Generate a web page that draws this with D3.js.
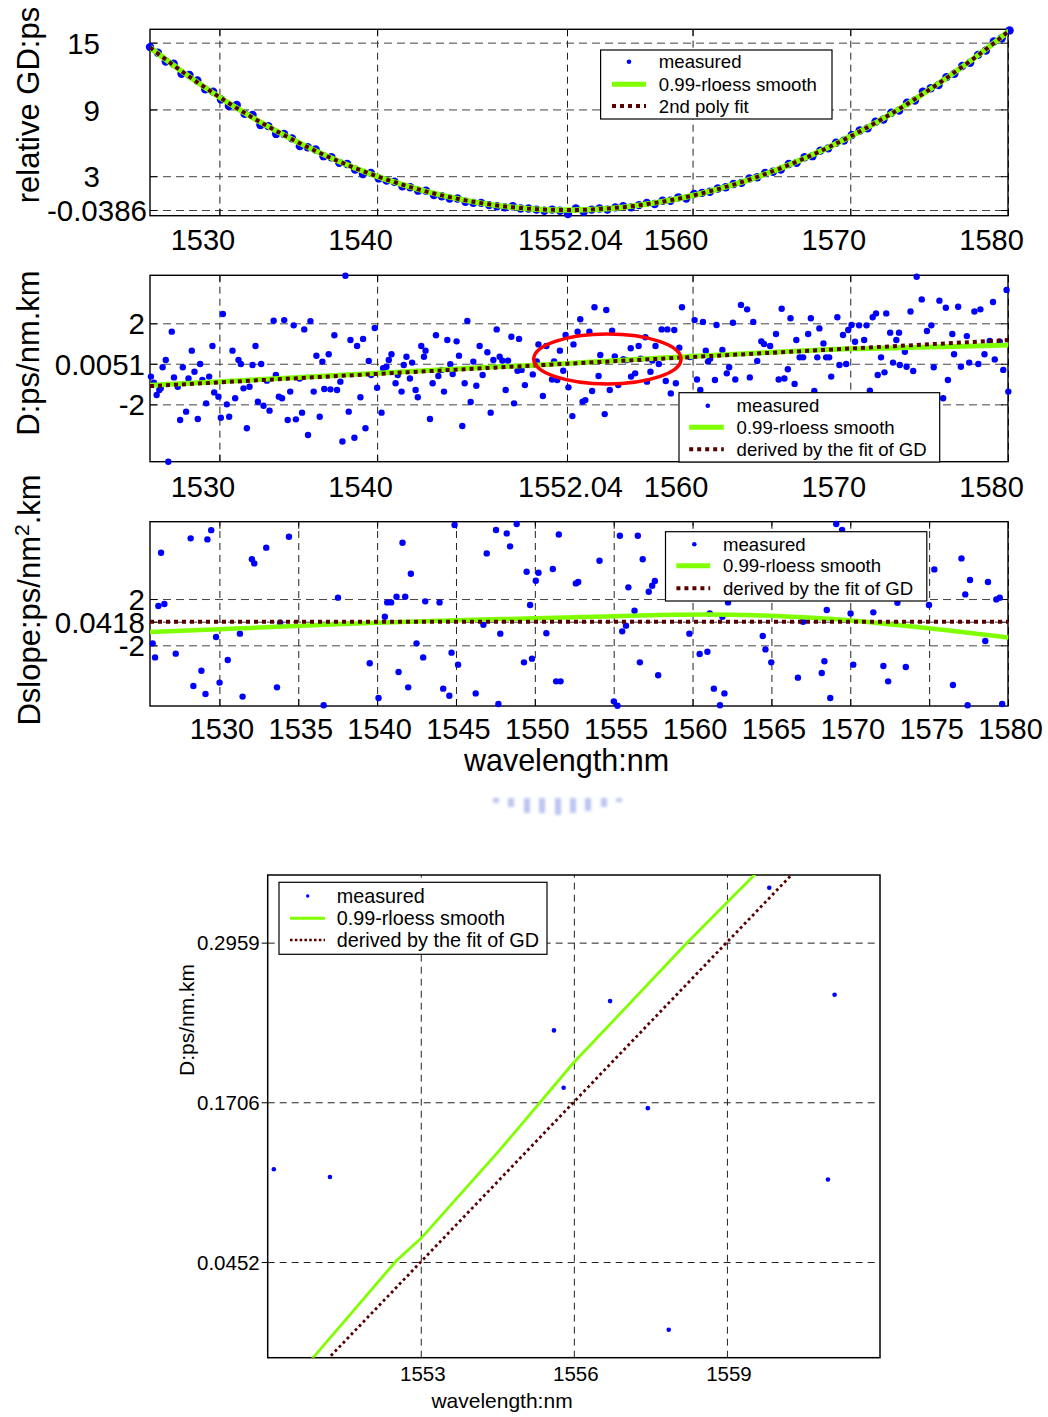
<!DOCTYPE html>
<html><head><meta charset="utf-8">
<script src="https://cdn.jsdelivr.net/npm/d3@7"></script>
<style>body{margin:0;background:#fff}svg{display:block}</style>
</head><body>
<svg id="c" width="1048" height="1417"></svg>
<script>
// ---------------- DATA ----------------
// Panel 1: relative group delay (ps), measured on a 0.5 nm wavelength grid
const gdStart = 1525.6, gdStep = 0.5;
const gdMeasured = [14.6,14.1,13.3,13.1,12.2,12.1,11.6,10.8,10.6,9.9,
 9.3,9.4,8.6,8.5,7.6,7.5,6.8,6.8,6.4,5.7,
 5.6,5.4,4.8,4.7,4.2,4.1,3.6,3.2,3.3,2.8,
 2.6,2.5,2.1,2.0,1.7,1.7,1.3,1.2,1.0,1.0,
 0.7,0.6,0.6,0.4,0.3,0.2,0.3,0.1,0.1,0.0,
 -0.1,0.0,-0.1,-0.4,0.1,-0.2,0.0,0.1,0.0,0.2,
 0.3,0.2,0.4,0.6,0.5,0.8,0.8,1.1,1.0,1.4,
 1.5,1.6,1.9,2.0,2.3,2.4,2.8,2.9,3.3,3.4,
 3.6,4.1,4.2,4.7,4.8,5.3,5.5,6.0,6.2,6.7,
 7.1,7.3,7.9,8.1,8.7,8.9,9.6,9.8,10.6,10.9,
 11.2,11.9,12.2,12.9,13.2,13.9,14.3,15.1,15.4,16.1];
const gdPolyFit = [14.57,14.02,13.49,12.96,12.44,11.94,11.44,10.96,10.48,10.02,
 9.57,9.12,8.69,8.27,7.86,7.46,7.07,6.69,6.32,5.96,
 5.61,5.27,4.94,4.62,4.32,4.02,3.73,3.46,3.19,2.94,
 2.70,2.46,2.24,2.02,1.82,1.63,1.45,1.28,1.12,0.97,
 0.83,0.70,0.58,0.47,0.37,0.28,0.21,0.14,0.08,0.04,
 0.00,-0.02,-0.04,-0.04,-0.03,-0.02,0.01,0.05,0.10,0.16,
 0.21,0.29,0.38,0.49,0.60,0.71,0.84,0.98,1.13,1.29,
 1.46,1.65,1.83,2.04,2.24,2.47,2.70,2.94,3.19,3.45,
 3.72,4.01,4.30,4.61,4.92,5.24,5.58,5.92,6.28,6.64,
 7.02,7.40,7.80,8.20,8.61,9.04,9.48,9.93,10.39,10.85,
 11.33,11.82,12.32,12.83,13.34,13.87,14.41,14.95,15.52,16.09];
const gdSmooth = [[1525.6,14.57],[1527.6,12.44],[1529.6,10.48],[1531.6,8.69],[1533.6,7.07],[1535.6,5.61],
 [1537.6,4.32],[1539.6,3.19],[1541.6,2.24],[1543.6,1.45],[1545.6,0.83],[1547.6,0.37],[1549.6,0.08],
 [1551.6,-0.04],[1553.6,0.01],[1555.6,0.21],[1557.6,0.60],[1559.6,1.13],[1561.6,1.83],[1563.6,2.70],
 [1565.6,3.72],[1567.6,4.92],[1569.6,6.28],[1571.6,7.80],[1573.6,9.48],[1575.6,11.33],[1577.6,13.34],
 [1579.6,15.52],[1580.1,16.09]];

// Panel 2 (and zoom): dispersion D (ps/nm.km)
const dMeasured = [
[1525.66,-0.63],[1525.85,-0.93],[1526.02,-1.54],[1526.19,-1.29],[1526.28,-1.21],[1526.40,-0.17],[1526.60,0.19],[1526.76,-4.83],[1526.98,1.59],[1527.12,-0.67],[1527.36,-1.13],[1527.51,-2.77],[1527.68,-0.17],[1527.89,-2.36],[1528.04,-0.72],[1528.25,0.65],[1528.42,-0.39],[1528.63,-2.72],[1528.78,-0.01],[1528.92,-0.80],[1529.16,-1.95],[1529.35,-0.63],[1529.56,0.88],[1529.67,-1.41],[1529.94,-1.62],[1530.09,-2.66],[1530.22,2.46],[1530.47,-2.00],[1530.62,-2.61],[1530.83,0.65],[1531.00,-1.70],[1531.21,0.19],[1531.36,-0.01],[1531.53,-1.21],[1531.74,-3.18],[1531.91,-1.13],[1532.10,-0.06],[1532.29,0.88],[1532.44,-1.87],[1532.65,-0.01],[1532.80,-2.07],[1533.01,-0.83],[1533.18,-2.31],[1533.44,2.13],[1533.58,-0.55],[1533.77,-1.62],[1533.97,-1.70],[1534.11,2.16],[1534.33,-2.77],[1534.49,-1.37],[1534.71,1.90],[1534.85,-2.74],[1535.09,-0.72],[1535.24,-2.41],[1535.38,1.70],[1535.62,-3.51],[1535.77,2.11],[1535.98,-1.37],[1536.15,0.40],[1536.36,-2.61],[1536.53,0.11],[1536.65,-1.24],[1536.93,0.47],[1537.04,-1.26],[1537.29,1.41],[1537.46,-1.29],[1537.67,-0.88],[1537.80,-3.83],[1537.99,4.35],[1538.20,-2.36],[1538.31,1.18],[1538.56,-3.65],[1538.73,0.88],[1538.94,-1.65],[1539.11,1.23],[1539.26,-3.18],[1539.47,0.14],[1539.62,-0.55],[1539.85,1.77],[1540.00,-1.18],[1540.28,-2.41],[1540.38,-0.22],[1540.59,-0.14],[1540.74,0.19],[1540.91,0.47],[1541.17,-0.96],[1541.31,-0.55],[1541.55,-1.37],[1541.69,-0.06],[1541.86,0.35],[1542.08,-0.72],[1542.22,0.06],[1542.44,-1.29],[1542.58,-1.65],[1542.80,0.88],[1542.97,0.35],[1543.07,0.65],[1543.35,-2.72],[1543.52,-0.96],[1543.73,1.41],[1543.88,-0.60],[1544.09,-0.30],[1544.24,-1.37],[1544.45,1.18],[1544.64,-0.02],[1544.79,-0.50],[1545.04,1.11],[1545.19,0.40],[1545.40,-3.07],[1545.55,-0.96],[1545.72,2.12],[1545.93,-1.88],[1546.10,0.11],[1546.29,-1.08],[1546.50,0.88],[1546.69,-0.55],[1546.99,0.57],[1547.20,-2.41],[1547.37,0.19],[1547.58,1.70],[1547.77,0.35],[1547.94,0.16],[1548.15,-1.29],[1548.30,0.16],[1548.51,1.34],[1548.68,-1.95],[1548.90,-0.34],[1549.00,1.23],
[1549.16,-0.30],[1549.37,-1.05],[1549.87,-0.52],[1550.12,0.118],[1550.23,0.96],[1550.51,-1.59],[1550.73,0.88],[1551.09,-0.77],[1551.22,0.112],[1551.42,-0.80],[1551.59,0.65],[1551.80,-0.34],[1551.95,1.42],[1552.13,-1.16],[1552.38,-2.58],[1552.45,0.96],[1552.71,1.59],[1552.88,2.20],[1553.03,-1.87],[1553.20,-1.79],[1553.46,1.59],[1553.63,-1.34],[1553.78,2.79],[1554.04,-0.60],[1554.15,0.44],[1554.43,-2.48],[1554.53,2.66],[1554.75,-1.29],[1554.90,1.64],[1555.07,0.37],[1555.29,-1.05],[1555.61,0.227],[1555.80,0.182],[1556.08,0.77],[1556.10,-0.63],[1556.36,-0.47],[1556.58,0.88],[1556.71,0.250],[1557.01,1.31],[1557.11,-0.88],[1557.33,-0.39],[1557.45,0.166],[1557.65,0.88],[1557.86,-0.008],[1558.04,1.70],[1558.30,-0.85],[1558.40,1.70],[1558.62,-1.46],[1558.84,1.67],[1558.94,-0.96],[1559.16,0.80],[1559.33,2.79],[1559.83,0.339],[1560.13,2.16],[1560.28,-0.77],[1560.49,-1.29],[1560.66,2.07],[1560.84,0.65],[1560.98,0.110],[1561.11,0.255],[1561.42,-0.80],[1561.52,1.92],[1561.89,0.68],[1562.17,-0.47],[1562.32,-0.17],[1562.56,2.03],[1562.71,-0.77],[1563.07,2.91],[1563.46,2.69],[1563.63,-0.67],[1563.85,2.07],[1564.10,0.14],[1564.36,1.11],[1564.53,0.98],[1564.92,0.88],[1565.29,1.47],[1565.46,-0.77],[1565.65,2.72],[1565.82,-0.72],[1566.04,-0.27],[1566.21,2.25],[1566.47,-0.99],[1566.58,1.18],[1566.79,0.32],[1567.01,0.32],[1567.33,1.47],[1567.50,2.25],[1567.72,-1.34],[1567.91,0.32],[1568.04,1.75],[1568.30,1.01],[1568.47,0.32],[1568.66,0.32],[1568.79,-0.63],[1569.18,2.30],[1569.31,-0.06],[1569.54,1.42],[1569.74,-0.01],[1569.87,1.67],[1570.08,1.92],[1570.30,1.09],[1570.56,1.90],[1570.88,1.18],[1571.03,1.90],[1571.24,-1.33],[1571.42,2.30],[1571.63,2.49],[1571.74,-0.55],[1571.95,0.32],[1572.17,-0.42],[1572.28,2.49],[1572.53,1.54],[1572.71,0.06],[1572.92,1.18],[1573.09,1.54],[1573.14,-0.06],[1573.46,0.60],[1573.57,-0.14],[1573.82,2.58],[1573.99,-0.35],[1574.21,4.30],[1574.53,3.18],[1574.86,1.62],[1575.14,1.90],[1575.29,-0.17],[1575.65,3.12],[1575.89,-1.70],[1576.06,2.77],[1576.19,-0.80],[1576.47,1.47],[1576.58,0.47],[1576.84,2.82],[1577.01,-0.14],[1577.39,1.37],[1577.54,0.06],[1577.87,2.58],[1578.12,-0.01],[1578.25,2.69],[1578.51,0.47],[1578.84,1.13],[1579.05,3.05],[1579.16,0.22],[1579.48,1.09],[1579.70,-0.30],[1579.91,3.65],[1580.02,-1.37]];
const dSmooth = [[1525.6,-1.06],[1530,-0.88],[1535,-0.67],[1540,-0.46],[1545,-0.26],[1548,-0.13],[1550,-0.07],
 [1550.887,-0.030],[1552.515,0.046],[1553.01,0.064],[1554.546,0.133],[1555.98,0.201],[1558.2,0.295],
 [1559.536,0.349],[1562,0.45],[1565,0.57],[1570,0.74],[1575,0.83],[1580.1,0.93]];
const dFromFit = [[1525.6,-1.100],[1535,-0.707],[1545,-0.289],[1552.04,0.0051],[1555,0.129],[1560,0.338],
 [1565,0.547],[1570,0.756],[1575,0.965],[1580.1,1.178]];

// Panel 3: dispersion slope (ps/nm^2.km)
const dsMeasured = [
[1525.77,-1.83],[1525.92,-3.04],[1526.13,1.40],[1526.30,6.00],[1526.51,1.57],[1527.23,-2.72],[1528.18,7.24],[1528.35,-5.51],[1528.86,-4.19],[1529.12,-6.20],[1529.24,7.15],[1529.48,7.95],[1529.79,-1.28],[1530.01,-5.22],[1530.53,-3.27],[1531.30,-0.99],[1531.47,-6.43],[1532.06,5.43],[1532.21,5.08],[1532.97,6.44],[1533.65,-5.63],[1533.85,-0.05],[1534.41,7.38],[1536.61,-7.18],[1537.52,2.12],[1539.53,-3.55],[1540.09,-6.55],[1540.49,0.47],[1540.64,1.71],[1540.89,1.71],[1541.23,2.20],[1541.36,-4.30],[1541.61,6.86],[1541.78,2.20],[1541.97,-5.63],[1542.14,4.19],[1542.50,-1.83],[1542.92,-3.04],[1543.05,1.80],[1543.96,1.71],[1544.19,-5.74],[1544.58,-6.35],[1544.72,-2.63],[1544.91,8.39],[1545.13,-3.67],[1546.25,-6.15],[1546.74,-0.22],[1546.95,5.94],[1547.54,7.96],[1547.69,-7.07],[1547.81,-0.99],[1548.22,7.67],[1548.43,6.55],[1548.85,8.48],
[1549.31,-3.47],[1549.48,4.36],[1549.70,1.48],[1549.82,-3.15],[1550.06,3.58],[1550.23,4.27],[1550.73,-0.96],[1551.14,4.59],[1551.35,-5.11],[1551.52,7.58],[1551.63,-5.11],[1552.60,3.35],[1552.75,3.47],[1554.10,5.31],[1555.01,-6.84],[1555.24,-7.22],[1555.39,7.47],[1555.54,-0.79],[1555.78,-0.30],[1555.93,3.01],[1556.32,0.99],[1556.53,7.47],[1556.66,-3.47],[1556.84,5.43],[1557.22,2.63],[1557.44,3.15],[1557.61,3.56],[1557.82,-4.59],[1559.80,-0.99],[1560.45,-2.75],[1560.94,-2.55],[1561.09,0.76],[1561.35,-5.74],[1561.74,-7.18],[1561.89,0.47],[1562.02,-6.15],[1562.25,1.71],[1564.45,-1.19],[1564.62,-2.35],[1564.99,-3.47],[1566.68,-4.79],[1567.01,0.04],[1568.19,-4.39],[1568.36,-3.38],[1568.51,1.05],[1568.73,-6.55],[1569.11,8.48],[1569.48,7.96],[1570.02,0.76],[1570.19,-3.67],[1571.46,0.85],[1572.10,-3.79],[1572.40,-5.11],[1572.99,1.68],[1573.52,-3.87],[1574.99,1.48],[1575.33,4.56],[1576.51,-5.43],[1577.05,5.51],[1577.29,2.40],[1577.44,-7.18],[1577.59,3.64],[1578.56,-1.63],[1578.73,3.47],[1579.26,1.97],[1579.48,2.12],[1579.63,-7.07]];
const dsSmooth = [[1525.6,-0.85],[1528,-0.72],[1531,-0.55],[1534,-0.38],[1537,-0.20],[1540,-0.05],[1543,0.08],
 [1546,0.20],[1549,0.30],[1552,0.40],[1555,0.52],[1558,0.62],[1561,0.66],[1564,0.60],[1567,0.42],
 [1570,0.15],[1573,-0.25],[1576,-0.68],[1578,-1.00],[1580.1,-1.34]];
const dsFromFit = [[1525.6,0.0418],[1580.1,0.0418]];

// Tick values
const xTicksMain = [1530,1540,1552.04,1560,1570,1580];
const xTicksSlope = [1530,1535,1540,1545,1550,1555,1560,1565,1570,1575,1580];
const yTicksGD = [-0.0386,3,9,15];
const yTicksD = [-2,0.0051,2];
const yTicksDS = [-2,0.0418,2];
const xTicksZoom = [1553,1556,1559];
const yTicksZoom = [0.0452,0.1706,0.2959];

// Legend labels
const legendGD = ["measured","0.99-rloess smooth","2nd poly fit"];
const legendD = ["measured","0.99-rloess smooth","derived by the fit of GD"];

// ---------------- DRAWING ----------------
const FONT = '"Liberation Sans", Arial, Helvetica, sans-serif';
const BLUE = "#0000ff", GREEN = "#80ff00", BROWN = "#560000";
const svg = d3.select("#c");
const defs = svg.append("defs");
defs.append("filter").attr("id","blur").append("feGaussianBlur").attr("stdDeviation",1.8);

const L = 150, R = 1008;
const wlDomain = [1525.6, 1580];

function panel(i, cfg) {
  const g = svg.append("g");
  const x = d3.scaleLinear(wlDomain, [L, R]);
  const y = d3.scaleLinear(cfg.yDom, [cfg.bottom, cfg.top]);
  const h = cfg.bottom - cfg.top;
  defs.append("clipPath").attr("id","cp"+i).append("rect")
    .attr("x",L).attr("y",cfg.top).attr("width",R-L).attr("height",h);

  const gx = g.append("g").attr("transform",`translate(0,${cfg.bottom})`)
    .call(d3.axisBottom(x).tickValues(cfg.xTicks).tickSize(-h).tickFormat(d=>String(d)));
  gx.select(".domain").remove();
  gx.selectAll(".tick line").attr("stroke","#222").attr("stroke-dasharray","7,5");
  gx.selectAll(".tick text").attr("font-family",FONT).attr("font-size",29).attr("fill","#000")
    .attr("dy",0).attr("y",cfg.xLabY).attr("x",cfg.xLabDx);

  const gy = g.append("g").attr("transform",`translate(${L},0)`)
    .call(d3.axisLeft(y).tickValues(cfg.yTicks).tickSize(-(R-L)).tickFormat(d=>String(d)));
  gy.select(".domain").remove();
  gy.selectAll(".tick line").attr("stroke","#444").attr("stroke-dasharray","8,5");
  gy.selectAll(".tick text").attr("font-family",FONT).attr("font-size",29.5).attr("fill","#000")
    .attr("dy","0.36em").attr("x",cfg.yLabX);

  g.append("rect").attr("x",L).attr("y",cfg.top).attr("width",R-L).attr("height",h)
    .attr("fill","none").attr("stroke","#000").attr("stroke-width",1.4);
  const tk = (axis, tr) => { const a = g.append("g").attr("transform",tr).call(axis); a.select(".domain").remove();
    a.selectAll("text").remove(); a.selectAll("line").attr("stroke","#000"); };
  tk(d3.axisLeft(y).tickValues(cfg.yTicks).tickSize(-7), `translate(${L},0)`);
  tk(d3.axisRight(y).tickValues(cfg.yTicks).tickSize(-7), `translate(${R},0)`);
  tk(d3.axisBottom(x).tickValues(cfg.xTicks).tickSize(-7), `translate(0,${cfg.bottom})`);
  tk(d3.axisTop(x).tickValues(cfg.xTicks).tickSize(-7), `translate(0,${cfg.top})`);

  const t = g.append("text").attr("transform",`translate(${cfg.titleX},${cfg.titleY}) rotate(-90)`)
    .attr("text-anchor","middle").attr("font-family",FONT).attr("font-size",31);
  cfg.title(t);

  g.append("g").selectAll("circle").data(cfg.meas).join("circle")
    .attr("cx",d=>x(d[0])).attr("cy",d=>y(d[1])).attr("r",cfg.dotR).attr("fill",BLUE);
  const cl = g.append("g").attr("clip-path",`url(#cp${i})`);
  cl.append("path").attr("d",d3.line().x(d=>x(d[0])).y(d=>y(d[1])).curve(d3.curveMonotoneX)(cfg.smooth)).attr("fill","none")
    .attr("stroke",GREEN).attr("stroke-width",cfg.greenW);
  cl.append("path").attr("d",d3.line().x(d=>x(d[0])).y(d=>y(d[1])).curve(d3.curveMonotoneX)(cfg.fit)).attr("fill","none")
    .attr("stroke",BROWN).attr("stroke-width",4).attr("stroke-dasharray","4,4");

  if (cfg.extra) cfg.extra(g, x, y);

  const lg = cfg.legend;
  const lgG = g.append("g");
  lgG.append("rect").attr("x",lg.x0).attr("y",lg.y0).attr("width",lg.x1-lg.x0).attr("height",lg.y1-lg.y0)
    .attr("fill","#fff").attr("stroke","#000").attr("stroke-width",1.2);
  lgG.append("circle").attr("cx",lg.dotX).attr("cy",lg.rows[0]).attr("r",2.3).attr("fill",BLUE);
  lgG.append("line").attr("x1",lg.l0).attr("x2",lg.l1).attr("y1",lg.rows[1]).attr("y2",lg.rows[1])
    .attr("stroke",GREEN).attr("stroke-width",5);
  lgG.append("line").attr("x1",lg.l0).attr("x2",lg.l1).attr("y1",lg.rows[2]).attr("y2",lg.rows[2])
    .attr("stroke",BROWN).attr("stroke-width",4).attr("stroke-dasharray","4,4");
  lgG.selectAll("text").data(lg.labels).join("text").attr("x",lg.tx).attr("y",(d,k)=>lg.rows[k])
    .attr("dy","0.35em").attr("font-family",FONT).attr("font-size",18.6).text(d=>d);
  return {x,y};
}

const gdPoints = gdMeasured.map((v,k)=>[gdStart+k*gdStep, v]);
const gdFitPts = gdPolyFit.map((v,k)=>[gdStart+k*gdStep, v]);

panel(1, {top:29.3, bottom:215.7, yDom:[-0.55,16.2], xTicks:xTicksMain, yTicks:yTicksGD,
  xLabY:34.5, xLabDx:d=>Number.isInteger(d)?-17:3, yLabX:d=>Number.isInteger(d)?-50:-3,
  titleX:39, titleY:105, title:t=>t.text("relative GD:ps"),
  meas:gdPoints, smooth:gdSmooth, fit:gdFitPts, dotR:4.2, greenW:5.5,
  legend:{x0:600.6,x1:832,y0:50,y1:119,dotX:629,l0:612,l1:646,tx:658.8,rows:[61.7,84.3,106],labels:legendGD}});

panel(2, {top:275.3, bottom:461.7, yDom:[-4.83,4.37], xTicks:xTicksMain, yTicks:yTicksD,
  xLabY:35, xLabDx:d=>Number.isInteger(d)?-17:3, yLabX:-5,
  titleX:39, titleY:353, title:t=>t.text("D:ps/nm.km"),
  meas:dMeasured, smooth:dSmooth, fit:dFromFit, dotR:3.2, greenW:5,
  extra:(g,x,y)=>{
    g.append("ellipse").attr("cx",x(1554.6)).attr("cy",y(0.237))
      .attr("rx",x(1554.6+4.67)-x(1554.6)).attr("ry",y(0.237)-y(0.237+1.23))
      .attr("fill","none").attr("stroke","#ff0000").attr("stroke-width",3.5);
  },
  legend:{x0:679,x1:939.7,y0:392.7,y1:462,dotX:707.8,l0:689.2,l1:723.8,tx:736.6,rows:[405.7,427.3,449.3],labels:legendD}});

panel(3, {top:521.7, bottom:706, yDom:[-7.24,8.68], xTicks:xTicksSlope, yTicks:yTicksDS,
  xLabY:33, xLabDx:2, yLabX:-5,
  titleX:40, titleY:600,
  title:t=>{ t.append("tspan").text("Dslope:ps/nm");
    t.append("tspan").attr("baseline-shift","super").attr("font-size",21).text("2");
    t.append("tspan").text(".km"); },
  meas:dsMeasured, smooth:dsSmooth, fit:dsFromFit, dotR:3.2, greenW:4.5,
  legend:{x0:665.5,x1:926.8,y0:531.7,y1:601,dotX:694.3,l0:676.4,l1:710.2,tx:723,rows:[544.3,565.7,588.3],labels:legendD}});

svg.append("text").attr("x",566.5).attr("y",771).attr("text-anchor","middle")
  .attr("font-family",FONT).attr("font-size",30.5).text("wavelength:nm");

// faint watermark fragment
const wm = svg.append("g").attr("filter","url(#blur)").attr("opacity",0.6);
[[496,5],[511,9],[527,15],[542,15],[558,17],[573,15],[588,13],[604,9],[619,4]].forEach(([cx,hh])=>{
  wm.append("rect").attr("x",cx-3).attr("y",798).attr("width",6).attr("height",hh).attr("fill","#8d9de6");
});

// ---------------- Zoomed D chart ----------------
{
  const x0=267.7, x1=880, t0=875, b0=1357.7;
  const x = d3.scaleLinear([1550,1562],[x0,x1]);
  const y = d3.scaleLinear([-0.0299,0.349],[b0,t0]);
  const g = svg.append("g");
  defs.append("clipPath").attr("id","cpz").append("rect").attr("x",x0).attr("y",t0).attr("width",x1-x0).attr("height",b0-t0);
  const gx = g.append("g").attr("transform",`translate(0,${b0})`)
    .call(d3.axisBottom(x).tickValues(xTicksZoom).tickSize(-(b0-t0)).tickFormat(d=>String(d)));
  gx.select(".domain").remove();
  gx.selectAll(".tick line").attr("stroke","#222").attr("stroke-dasharray","7,5");
  gx.selectAll(".tick text").attr("font-family",FONT).attr("font-size",20.5).attr("fill","#000")
    .attr("dy",0).attr("y",23.5).attr("x",1.5);
  const gy = g.append("g").attr("transform",`translate(${x0},0)`)
    .call(d3.axisLeft(y).tickValues(yTicksZoom).tickSize(-(x1-x0)).tickFormat(d=>String(d)));
  gy.select(".domain").remove();
  gy.selectAll(".tick line").attr("stroke","#222").attr("stroke-dasharray","7,5");
  gy.selectAll(".tick text").attr("font-family",FONT).attr("font-size",20.5).attr("fill","#000")
    .attr("dy","0.35em").attr("x",-8);
  const ot = g.append("g").attr("transform",`translate(${x0},0)`)
    .call(d3.axisLeft(y).tickValues(yTicksZoom).tickSize(6).tickFormat(""));
  ot.select(".domain").remove(); ot.selectAll("line").attr("stroke","#000");
  g.append("rect").attr("x",x0).attr("y",t0).attr("width",x1-x0).attr("height",b0-t0)
    .attr("fill","none").attr("stroke","#000").attr("stroke-width",1.5);

  const inView = dMeasured.filter(d=>d[0]>=1550&&d[0]<=1562&&d[1]>=-0.0299&&d[1]<=0.349);
  g.append("g").selectAll("circle").data(inView).join("circle")
    .attr("cx",d=>x(d[0])).attr("cy",d=>y(d[1])).attr("r",2.3).attr("fill",BLUE);
  const cl = g.append("g").attr("clip-path","url(#cpz)");
  const ln = d3.line().x(d=>x(d[0])).y(d=>y(d[1]));
  cl.append("path").attr("d",ln(dSmooth)).attr("fill","none").attr("stroke",GREEN).attr("stroke-width",2.8);
  cl.append("path").attr("d",ln(dFromFit)).attr("fill","none").attr("stroke",BROWN)
    .attr("stroke-width",2.8).attr("stroke-dasharray","2.8,3");

  g.append("text").attr("transform","translate(194,1020) rotate(-90)").attr("text-anchor","middle")
    .attr("font-family",FONT).attr("font-size",21).text("D:ps/nm.km");
  g.append("text").attr("x",502).attr("y",1408).attr("text-anchor","middle")
    .attr("font-family",FONT).attr("font-size",21).text("wavelength:nm");

  const lg = g.append("g");
  lg.append("rect").attr("x",279).attr("y",882.3).attr("width",268).attr("height",72)
    .attr("fill","#fff").attr("stroke","#000").attr("stroke-width",1.2);
  lg.append("circle").attr("cx",307.7).attr("cy",896).attr("r",1.7).attr("fill",BLUE);
  lg.append("line").attr("x1",290).attr("x2",325).attr("y1",918.3).attr("y2",918.3).attr("stroke",GREEN).attr("stroke-width",3);
  lg.append("line").attr("x1",290).attr("x2",325).attr("y1",940).attr("y2",940).attr("stroke",BROWN)
    .attr("stroke-width",2.6).attr("stroke-dasharray","2.6,2.2");
  lg.selectAll("text").data(legendD).join("text").attr("x",336.7).attr("y",(d,k)=>[896,918.3,940][k])
    .attr("dy","0.35em").attr("font-family",FONT).attr("font-size",19.8).text(d=>d);
}
</script>
</body></html>
